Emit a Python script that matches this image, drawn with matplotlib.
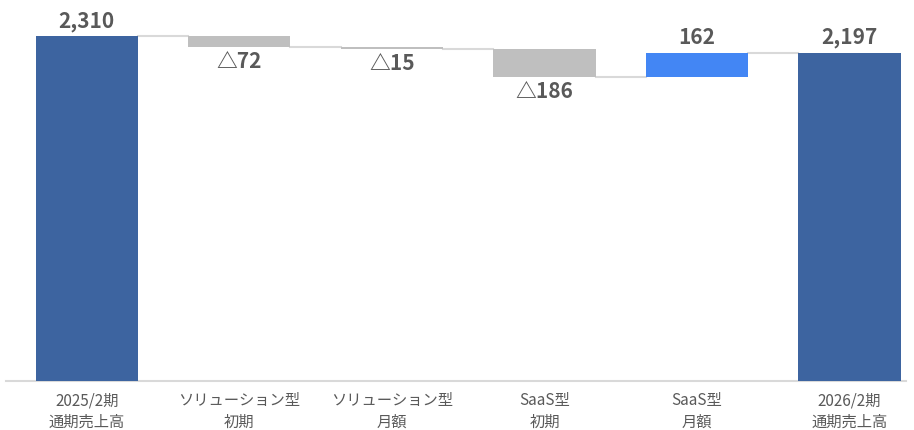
import matplotlib.pyplot as plt
import numpy as np

plt.rcParams['font.family'] = ['Noto Sans CJK JP', 'DejaVu Sans']

# 売上高ウォーターフォール（百万円）
categories = ['2025/2期\n通期売上高', 'ソリューション型\n初期', 'ソリューション型\n月額',
              'SaaS型\n初期', 'SaaS型\n月額', '2026/2期\n通期売上高']
start_total = 2310
changes = [-72, -15, -186, 162]
end_total = 2197

c_total = '#3D64A0'
c_down = '#BFBFBF'
c_up = '#4386F4'
c_text = '#595959'
c_line = '#D9D9D9'

fig = plt.figure(figsize=(9.14, 4.30), dpi=100)
ax = fig.add_axes([6 / 914, 49 / 430, 900 / 914, 381 / 430])

x = np.arange(len(categories))
w = 0.67

bottoms, heights, colors = [0], [start_total], [c_total]
run = start_total
for d in changes:
    if d < 0:
        bottoms.append(run + d)
        heights.append(-d)
        colors.append(c_down)
    else:
        bottoms.append(run)
        heights.append(d)
        colors.append(c_up)
    run += d
bottoms.append(0)
heights.append(end_total)
colors.append(c_total)

ax.bar(x, heights, bottom=bottoms, width=w, color=colors, zorder=3)

# 接続線
levels = [start_total]
run = start_total
for d in changes:
    run += d
    levels.append(run)
for i, lv in enumerate(levels):
    ax.plot([x[i] + w / 2, x[i + 1] - w / 2], [lv, lv], color=c_line, lw=1.5, zorder=2)

# 値ラベル
lab_kw = dict(ha='center', color=c_text, fontsize=15, fontweight='bold')
ax.text(x[0], start_total + 30, f'{start_total:,}', va='bottom', **lab_kw)
run = start_total
for i, d in enumerate(changes, start=1):
    if d < 0:
        ax.text(x[i], run + d - 30, f'△{-d:,}', va='top', **lab_kw)
    else:
        ax.text(x[i], run + d + 30, f'{d:,}', va='bottom', **lab_kw)
    run += d
ax.text(x[-1], end_total + 30, f'{end_total:,}', va='bottom', **lab_kw)

ax.set_xlim(-0.53, 5.37)
ax.set_ylim(0, 2551)
ax.set_xticks(x)
ax.set_xticklabels(categories, fontsize=11, color=c_text, linespacing=1.35)
ax.tick_params(axis='x', length=0, pad=8)
ax.set_yticks([])
for s in ['top', 'right', 'left']:
    ax.spines[s].set_visible(False)
ax.spines['bottom'].set_color(c_line)
ax.spines['bottom'].set_linewidth(1.5)

fig.savefig('out.png', dpi=100)
